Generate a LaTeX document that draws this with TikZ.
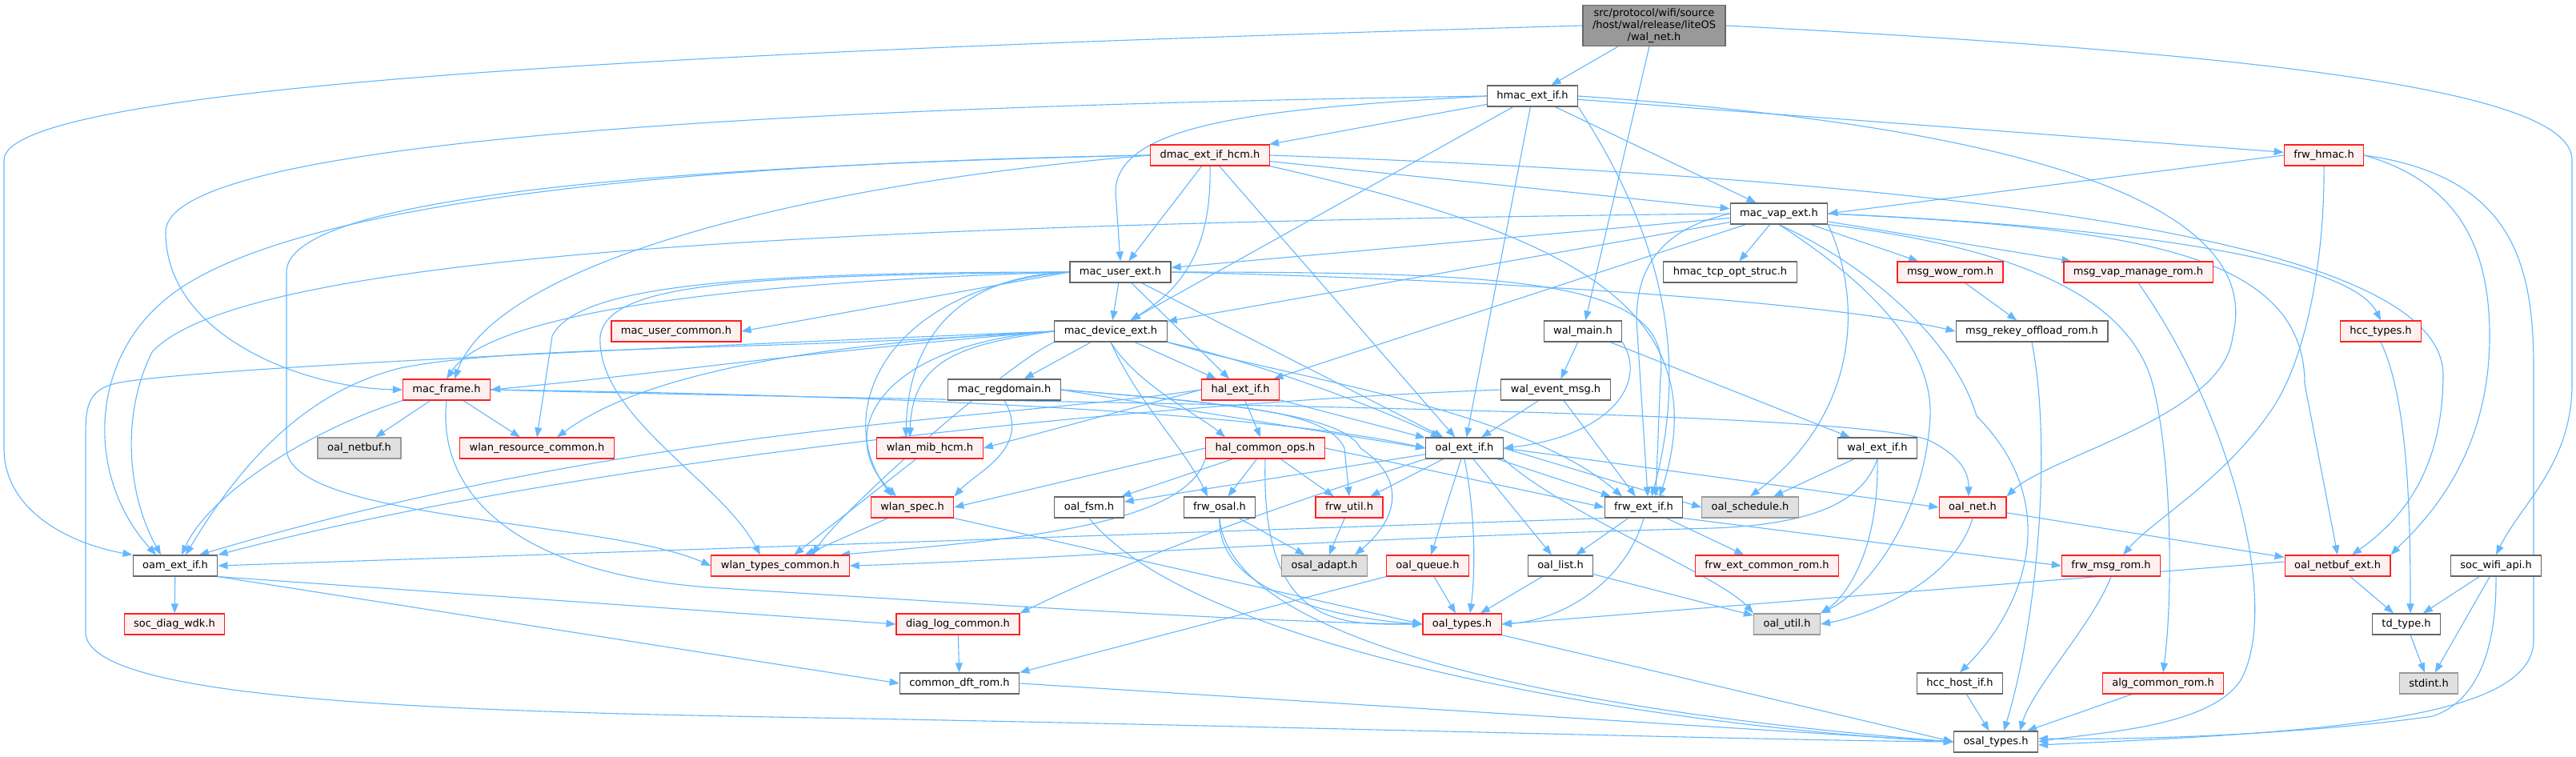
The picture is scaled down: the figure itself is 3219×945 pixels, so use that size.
\documentclass[tikz,border=0pt]{standalone}
\usepackage{fontspec}
\setmainfont{DejaVu Sans}
\usepackage{tikz}
\usetikzlibrary{arrows.meta}
\definecolor{edgeblue}{HTML}{63B8FF}
\definecolor{redfill}{HTML}{FFF0F0}
\definecolor{boxred}{HTML}{FF2020}
\definecolor{grey40}{HTML}{666666}
\definecolor{grey60}{HTML}{999999}
\definecolor{greyfill}{HTML}{E0E0E0}
\pgfdeclarelayer{edges}
\pgfsetlayers{edges,main}
\begin{document}
\begin{tikzpicture}[x=1pt,y=-1pt,
  box/.style={draw,line width=1.2pt,minimum height=26pt,inner xsep=12pt,inner ysep=0pt,
    font=\fontsize{13}{15}\selectfont},
  plain/.style={box,draw=grey40,fill=white},
  redbox/.style={box,draw=boxred,fill=redfill},
  graybox/.style={box,draw=grey60,fill=greyfill},
  rootbox/.style={box,draw=grey40,fill=grey60,align=center,inner ysep=4pt},
  inc/.style={draw=edgeblue,line width=1.1pt,-{Triangle[length=12pt,width=9pt]}}]
 \useasboundingbox (0,0) rectangle (3219,945);
 % nodes, rank by rank
 \node[rootbox] (walnet) at (2067,32) {src/protocol/wifi/source\\/host/wal/release/liteOS\\/wal\_net.h};
 \node[plain] (hmacext) at (1915,120) {hmac\_ext\_if.h};
 \node[redbox] (dmac) at (1512,194) {dmac\_ext\_if\_hcm.h};
 \node[redbox] (frwhmac) at (2904,194) {frw\_hmac.h};
 \node[plain] (macvap) at (2223,267) {mac\_vap\_ext.h};
 \node[plain] (macuser) at (1400,340) {mac\_user\_ext.h};
 \node[plain] (tcpopt) at (2162,340) {hmac\_tcp\_opt\_struc.h};
 \node[redbox] (msgwow) at (2437,340) {msg\_wow\_rom.h};
 \node[redbox] (msgvap) at (2672,340) {msg\_vap\_manage\_rom.h};
 \node[redbox] (macuc) at (845,414) {mac\_user\_common.h};
 \node[plain] (macdev) at (1388,414) {mac\_device\_ext.h};
 \node[plain] (walmain) at (1978,414) {wal\_main.h};
 \node[plain] (msgrekey) at (2539,414) {msg\_rekey\_offload\_rom.h};
 \node[redbox] (hcctypes) at (2975,414) {hcc\_types.h};
 \node[redbox] (macframe) at (558,487) {mac\_frame.h};
 \node[plain] (macreg) at (1255,487) {mac\_regdomain.h};
 \node[redbox] (halext) at (1550,487) {hal\_ext\_if.h};
 \node[plain] (walevt) at (1944,487) {wal\_event\_msg.h};
 \node[graybox] (oalnetbuf) at (449,560) {oal\_netbuf.h};
 \node[redbox] (wlanres) at (671,560) {wlan\_resource\_common.h};
 \node[redbox] (wlanmib) at (1162,560) {wlan\_mib\_hcm.h};
 \node[redbox] (halops) at (1581,560) {hal\_common\_ops.h};
 \node[plain] (oalext) at (1830,560) {oal\_ext\_if.h};
 \node[plain] (walextif) at (2346,560) {wal\_ext\_if.h};
 \node[redbox] (wlanspec) at (1140,634) {wlan\_spec.h};
 \node[plain] (oalfsm) at (1361,634) {oal\_fsm.h};
 \node[plain] (frwosal) at (1524,634) {frw\_osal.h};
 \node[redbox] (frwutil) at (1686,634) {frw\_util.h};
 \node[plain] (frwext) at (2054,634) {frw\_ext\_if.h};
 \node[graybox] (oalsched) at (2187,634) {oal\_schedule.h};
 \node[redbox] (oalnet) at (2465,634) {oal\_net.h};
 \node[plain] (oamext) at (219,707) {oam\_ext\_if.h};
 \node[redbox] (wlantypes) at (975,707) {wlan\_types\_common.h};
 \node[graybox] (osaladapt) at (1655,707) {osal\_adapt.h};
 \node[redbox] (oalqueue) at (1784,707) {oal\_queue.h};
 \node[plain] (oallist) at (1950,707) {oal\_list.h};
 \node[redbox] (frwextcr) at (2208,707) {frw\_ext\_common\_rom.h};
 \node[redbox] (frwmsg) at (2638,707) {frw\_msg\_rom.h};
 \node[redbox] (oalnetbufext) at (2921,707) {oal\_netbuf\_ext.h};
 \node[plain] (socwifi) at (3119,707) {soc\_wifi\_api.h};
 \node[redbox] (socdiag) at (218,780) {soc\_diag\_wdk.h};
 \node[redbox] (diaglog) at (1197,780) {diag\_log\_common.h};
 \node[redbox] (oaltypes) at (1827,780) {oal\_types.h};
 \node[graybox] (oalutil) at (2233,780) {oal\_util.h};
 \node[plain] (tdtype) at (3007,780) {td\_type.h};
 \node[plain] (commondft) at (1199,854) {common\_dft\_rom.h};
 \node[plain] (hcchost) at (2449,854) {hcc\_host\_if.h};
 \node[redbox] (algcommon) at (2703,854) {alg\_common\_rom.h};
 \node[graybox] (stdint) at (3035,854) {stdint.h};
 \node[plain] (osaltypes) at (2494,927) {osal\_types.h};

 \begin{pgfonlayer}{edges}
 \fill[white] (0,0) rectangle (3219,945);
 % wal_net.h
 \draw[inc] (walnet) -- (hmacext);
 \draw[inc] (walnet) -- (walmain);
 \draw[inc] (walnet.west) .. controls (1000,60) and (5,100) .. (5,200) -- (5,560) .. controls (5,640) and (90,680) .. (oamext.north west);
 \draw[inc] (walnet.east) .. controls (2900,70) and (3214,120) .. (3214,200) -- (3214,480) .. controls (3214,580) and (3150,630) .. (socwifi.north);
 % hmac_ext_if.h
 \draw[inc] (hmacext) -- (dmac);
 \draw[inc] (hmacext.west) .. controls (1600,135) and (1394,150) .. (1394,240) -- (macuser.north);
 \draw[inc] (hmacext) -- (macdev);
 \draw[inc] (hmacext.west) .. controls (900,135) and (207,180) .. (207,290) .. controls (207,420) and (380,485) .. (macframe.west);
 \draw[inc] (hmacext) -- (oalext);
 \draw[inc] (hmacext.south east) .. controls (2080,300) and (2110,450) .. ([xshift=10pt]frwext.north);
 \draw[inc] (hmacext) -- (macvap);
 \draw[inc] (hmacext) -- (frwhmac);
 \draw[inc] (hmacext.east) .. controls (2550,160) and (2830,260) .. (2790,420) .. controls (2780,520) and (2560,570) .. (oalnet.north east);
 % dmac_ext_if_hcm.h
 \draw[inc] (dmac) -- (macuser);
 \draw[inc] (dmac.south) .. controls (1515,330) and (1460,370) .. ([xshift=25pt]macdev.north);
 \draw[inc] (dmac) -- (oalext);
 \draw[inc] (dmac.south east) .. controls (1950,290) and (2150,380) .. ([xshift=20pt]frwext.north);
 \draw[inc] (dmac) -- (macvap);
 \draw[inc] (dmac.east) .. controls (2600,230) and (3055,320) .. (3053,470) .. controls (3052,590) and (3000,650) .. ([xshift=18pt]oalnetbufext.north);
 \draw[inc] (dmac.west) .. controls (800,205) and (330,260) .. (200,380) .. controls (110,460) and (110,600) .. ([xshift=-24pt]oamext.north);
 \draw[inc] (dmac.west) .. controls (700,210) and (358,260) .. (358,340) -- (358,560) .. controls (358,650) and (760,650) .. (wlantypes.west);
 \draw[inc] (dmac.west) .. controls (1000,230) and (620,330) .. ([xshift=10pt]macframe.north);
 % mac_vap_ext.h
 \draw[inc] (macvap) -- (macuser);
 \draw[inc] (macvap) -- (macdev);
 \draw[inc] (macvap) -- (tcpopt);
 \draw[inc] (macvap) -- (msgwow);
 \draw[inc] (macvap) -- (msgvap);
 \draw[inc] (macvap) -- (halext);
 \draw[inc] (macvap.west) .. controls (2080,285) and (2045,330) .. (2045,400) -- ([xshift=5pt]frwext.north);
 \draw[inc] (macvap.east) .. controls (2700,285) and (2940,330) .. (hcctypes.north);
 \draw[inc] (macvap.west) .. controls (1000,280) and (300,320) .. (190,440) .. controls (150,520) and (160,620) .. ([xshift=-18pt]oamext.north);
 \draw[inc] (macvap.south east) .. controls (2330,380) and (2320,520) .. (oalsched.north);
 \draw[inc] (macvap.east) .. controls (2650,285) and (2880,310) .. (2880,480) -- (oalnetbufext.north);
 \draw[inc] (macvap.south) .. controls (2330,330) and (2440,420) .. (2470,520) .. controls (2580,630) and (2530,760) .. (hcchost.north);
 \draw[inc] (macvap.south east) .. controls (2520,310) and (2660,370) .. (2690,480) .. controls (2715,580) and (2715,750) .. (algcommon.north);
 \draw[inc] (macvap.south) .. controls (2330,350) and (2415,430) .. (2412,520) .. controls (2405,650) and (2330,740) .. (oalutil.north east);
 % mac_user_ext.h
 \draw[inc] (macuser) -- (macdev);
 \draw[inc] (macuser) -- (halext);
 \draw[inc] (macuser.west) -- (macuc.east);
 \draw[inc] (macuser.west) .. controls (1000,350) and (620,380) .. (macframe.north);
 \draw[inc] (macuser.west) .. controls (900,340) and (720,360) .. (690,420) -- (wlanres.north);
 \draw[inc] (macuser.west) .. controls (950,345) and (760,350) .. (750,420) .. controls (745,520) and (900,600) .. ([xshift=-25pt]wlantypes.north);
 \draw[inc] (macuser.west) .. controls (1200,345) and (1135,420) .. ([xshift=-30pt]wlanmib.north);
 \draw[inc] (macuser.west) .. controls (1100,360) and (1040,520) .. ([xshift=-25pt]wlanspec.north);
 \draw[inc] (macuser) -- (oalext);
 \draw[inc] (macuser.east) .. controls (1900,340) and (2090,350) .. (2075,470) -- ([xshift=15pt]frwext.north);
 \draw[inc] (macuser.east) .. controls (1900,350) and (2300,380) .. (msgrekey.west);
 % mac_device_ext.h
 \draw[inc] (macdev) -- (macreg);
 \draw[inc] (macdev) -- (halext);
 \draw[inc] (macdev.south) .. controls (1420,480) and (1500,520) .. ([xshift=-50pt]halops.north);
 \draw[inc] (macdev.south) .. controls (1420,500) and (1480,560) .. ([xshift=-15pt]frwosal.north);
 \draw[inc] (macdev.south east) .. controls (1560,450) and (1700,500) .. ([xshift=-30pt]oalext.north);
 \draw[inc] (macdev.south east) .. controls (1600,470) and (1900,510) .. ([xshift=-27pt]frwext.north);
 \draw[inc] (macdev.west) .. controls (1000,440) and (800,470) .. (macframe.east);
 \draw[inc] (macdev.west) .. controls (1000,430) and (800,470) .. ([xshift=25pt]wlanres.north);
 \draw[inc] (macdev.west) .. controls (1200,430) and (1140,450) .. ([xshift=-25pt]wlanmib.north);
 \draw[inc] (macdev.west) .. controls (1100,430) and (1040,540) .. ([xshift=-20pt]wlanspec.north);
 \draw[inc] (macdev.south west) .. controls (1250,460) and (1050,640) .. ([xshift=40pt]wlantypes.north);
 \draw[inc] (macdev.west) .. controls (950,440) and (650,430) .. (500,460) .. controls (380,490) and (300,580) .. ([xshift=13pt]oamext.north);
 \draw[inc] (macdev.west) .. controls (800,435) and (250,460) .. (150,478) .. controls (107,486) and (107,510) .. (107,550) -- (107,790) .. controls (107,880) and (600,890) .. (1080,898) .. controls (1700,910) and (2200,925) .. (osaltypes.west);
 % mac_regdomain.h
 \draw[inc] (macreg.east) -- (oalext.west);
 \draw[inc] (macreg.east) .. controls (1550,505) and (1680,520) .. (1700,560) .. controls (1760,600) and (1745,650) .. ([xshift=38pt]osaladapt.north);
 \draw[inc] (macreg.east) .. controls (1550,505) and (1660,515) .. (1680,560) -- (frwutil.north);
 \draw[inc] (macreg.south) .. controls (1290,560) and (1220,590) .. (wlanspec.north east);
 % hal_ext_if.h
 \draw[inc] (halext) -- (halops);
 \draw[inc] (halext.west) -- (wlanmib.east);
 \draw[inc] (halext) -- (oalext);
 \draw[inc] (halext.west) .. controls (1250,525) and (800,530) .. ([xshift=30pt]oamext.north);
 % hal_common_ops.h
 \draw[inc] (halops.west) -- (wlanspec.east);
 \draw[inc] (halops) -- (oalfsm);
 \draw[inc] (halops) -- (frwosal);
 \draw[inc] (halops) -- (frwutil);
 \draw[inc] (halops.east) -- (frwext.west);
 \draw[inc] (halops.south west) .. controls (1480,660) and (1250,675) .. ([xshift=75pt]wlantypes.north);
 \draw[inc] (halops.south) .. controls (1575,790) and (1680,780) .. (oaltypes.west);
 % wal_main.h, wal_event_msg.h
 \draw[inc] (walmain) -- (walevt);
 \draw[inc] (walmain.south east) .. controls (2060,480) and (2010,545) .. (oalext.east);
 \draw[inc] (walmain) -- (walextif);
 \draw[inc] (walevt) -- (oalext);
 \draw[inc] (walevt) -- (frwext);
 \draw[inc] (walevt.west) .. controls (1400,505) and (700,580) .. (oamext.north east);
 % middle ranks
 \draw[inc] (wlanmib) -- (wlantypes);
 \draw[inc] (wlanspec) -- (wlantypes);
 \draw[inc] (wlanspec.south east) -- (oaltypes.west);
 \draw[inc] (oalext) -- (oalfsm);
 \draw[inc] (oalext) -- (frwutil);
 \draw[inc] (oalext) -- (oalqueue);
 \draw[inc] (oalext) -- (oallist);
 \draw[inc] (oalext.south) .. controls (1845,650) and (1843,720) .. ([xshift=10pt]oaltypes.north);
 \draw[inc] (oalext.east) -- (oalsched.west);
 \draw[inc] (oalext.east) -- (oalnet.west);
 \draw[inc] (oalext.south east) .. controls (1950,640) and (2150,720) .. (oalutil.north west);
 \draw[inc] (oalext) -- (frwext);
 \draw[inc] (oalext.south west) .. controls (1700,600) and (1450,680) .. (diaglog.north east);
 \draw[inc] (frwosal) -- (osaladapt);
 \draw[inc] (frwosal.south) .. controls (1520,750) and (1700,775) .. (oaltypes.west);
 \draw[inc] (frwosal.south) .. controls (1540,830) and (2100,900) .. (osaltypes.west);
 \draw[inc] (oalfsm.south) .. controls (1500,820) and (2100,910) .. (osaltypes.west);
 \draw[inc] (frwutil) -- (osaladapt);
 \draw[inc] (frwext) -- (oallist);
 \draw[inc] (frwext) -- (frwextcr);
 \draw[inc] (frwext.south) .. controls (2030,730) and (1950,775) .. (oaltypes.east);
 \draw[inc] (frwext.south east) -- (frwmsg.west);
 \draw[inc] (frwext.south west) -- (oamext.east);
 \draw[inc] (oalqueue) -- (oaltypes);
 \draw[inc] (oalqueue.south west) -- (commondft.north east);
 \draw[inc] (oallist) -- (oaltypes);
 \draw[inc] (oallist) -- (oalutil);
 \draw[inc] (oaltypes.south east) -- (osaltypes.west);
 \draw[inc] (oamext) -- (socdiag);
 \draw[inc] (oamext.south east) -- (diaglog.west);
 \draw[inc] (oamext.south east) -- (commondft.west);
 \draw[inc] (macframe) -- (oalnetbuf);
 \draw[inc] (macframe) -- (wlanres);
 \draw[inc] (macframe.south west) .. controls (380,540) and (260,620) .. ([xshift=8pt]oamext.north);
 \draw[inc] (macframe.south) .. controls (545,620) and (650,720) .. (900,735) .. controls (1300,760) and (1600,778) .. (oaltypes.west);
 \draw[inc] (macframe.east) .. controls (1200,495) and (1600,520) .. (oalext.west);
 \draw[inc] (macframe.east) .. controls (1300,505) and (2300,510) .. (2410,550) .. controls (2450,570) and (2460,590) .. ([xshift=-5pt]oalnet.north);
 \draw[inc] (walextif) -- (oalsched);
 \draw[inc] (walextif.south) .. controls (2348,700) and (2300,750) .. (oalutil.north east);
 \draw[inc] (walextif.south) .. controls (2330,620) and (2280,655) .. (2140,660) .. controls (1600,675) and (1300,700) .. (wlantypes.east);
 \draw[inc] (oalnet) -- (oalnetbufext);
 \draw[inc] (oalnet.south) .. controls (2440,730) and (2330,770) .. (oalutil.east);
 \draw[inc] (oalnetbufext) -- (tdtype);
 \draw[inc] ([yshift=5pt]oalnetbufext.west) -- (oaltypes.east);
 % frw_hmac.h and the right side
 \draw[inc] (frwhmac.west) -- (macvap.east);
 \draw[inc] (frwhmac.south) .. controls (2905,330) and (2880,450) .. (2840,510) .. controls (2780,600) and (2690,650) .. ([xshift=15pt]frwmsg.north);
 \draw[inc] (frwhmac.east) .. controls (3080,230) and (3111,320) .. (3111,420) .. controls (3111,580) and (3020,660) .. (oalnetbufext.north east);
 \draw[inc] (frwhmac.east) .. controls (3140,220) and (3166,330) .. (3166,460) -- (3166,800) .. controls (3166,900) and (2900,915) .. ([yshift=-4pt]osaltypes.east);
 \draw[inc] (msgwow) -- (msgrekey);
 \draw[inc] (msgvap.south) .. controls (2790,520) and (2850,760) .. (2800,850) .. controls (2760,910) and (2620,915) .. (osaltypes.east);
 \draw[inc] (msgrekey.south) .. controls (2565,560) and (2545,780) .. ([xshift=10pt]osaltypes.north);
 \draw[inc] (hcctypes.south) .. controls (3010,500) and (3012,650) .. ([xshift=5pt]tdtype.north);
 \draw[inc] (frwmsg.south) .. controls (2615,780) and (2540,860) .. ([xshift=30pt]osaltypes.north);
 \draw[inc] (hcchost) -- (osaltypes);
 \draw[inc] (algcommon) -- (osaltypes);
 \draw[inc] (diaglog) -- (commondft);
 \draw[inc] (commondft.east) -- (osaltypes.west);
 \draw[inc] (tdtype) -- (stdint);
 \draw[inc] (socwifi) -- (tdtype);
 \draw[inc] (socwifi) -- (stdint);
 \draw[inc] (socwifi.south) .. controls (3120,830) and (3085,880) .. (3040,895) .. controls (2900,915) and (2700,925) .. ([yshift=4pt]osaltypes.east);
 \end{pgfonlayer}
\end{tikzpicture}
\end{document}
